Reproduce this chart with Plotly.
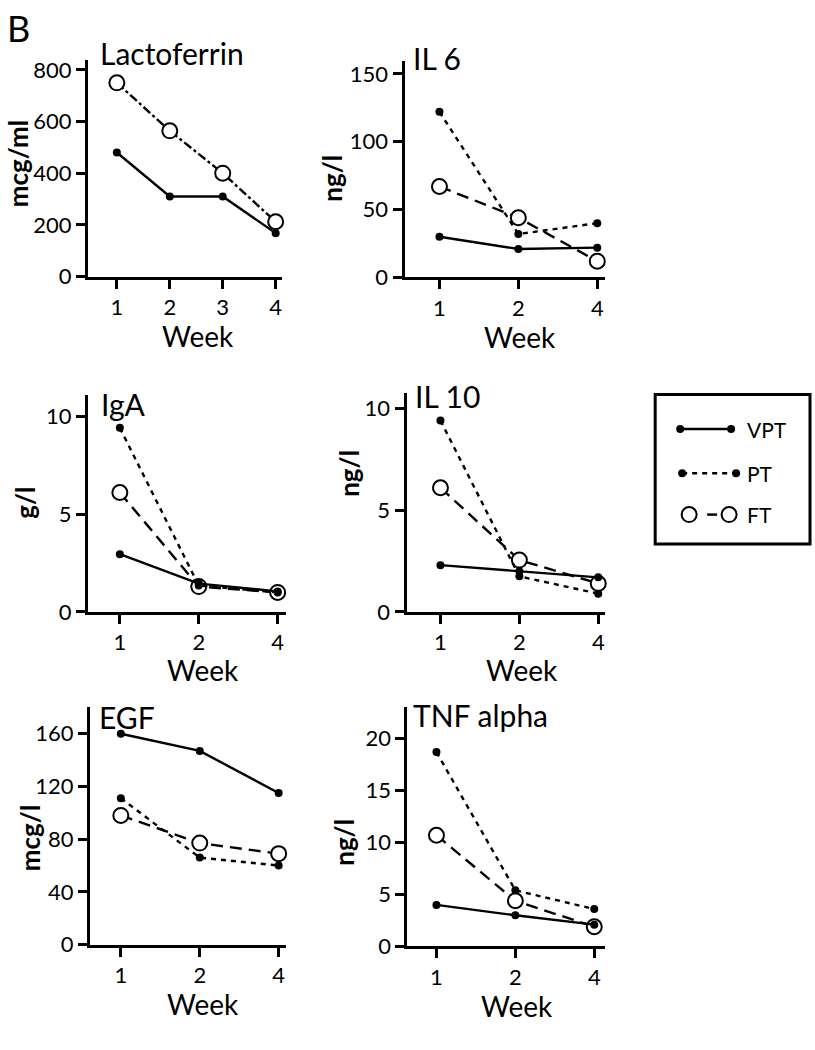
import plotly.graph_objects as go

W, H = 815, 1050
FONT = "Lato"

# ---------------- data ----------------
weeks_lf = ["1", "2", "3", "4"]
weeks = ["1", "2", "4"]

lactoferrin_vpt = [480, 310, 310, 168]
lactoferrin_ft = [750, 564, 400, 212]

il6_vpt = [30, 21, 22]
il6_pt = [122, 32, 40]
il6_ft = [67, 44, 12]

iga_vpt = [2.95, 1.45, 1.05]
iga_pt = [9.4, 1.35, 1.0]
iga_ft = [6.1, 1.3, 1.0]

il10_vpt = [2.3, 2.0, 1.7]
il10_pt = [9.4, 1.75, 0.9]
il10_ft = [6.1, 2.55, 1.4]

egf_vpt = [160, 147, 115]
egf_pt = [111, 66, 60]
egf_ft = [98, 77, 69]

tnf_vpt = [4.0, 3.0, 2.1]
tnf_pt = [18.7, 5.4, 3.6]
tnf_ft = [10.7, 4.4, 1.9]

panel_titles = ["Lactoferrin", "IL 6", "IgA", "IL 10", "EGF", "TNF alpha"]
unit_labels = ["mcg/ml", "ng/l", "g/l", "ng/l", "mcg/l", "ng/l"]
ytick_vals = [[0, 200, 400, 600, 800], [0, 50, 100, 150], [0, 5, 10],
              [0, 5, 10], [0, 40, 80, 120, 160], [0, 5, 10, 15, 20]]
legend_names = ["VPT", "PT", "FT"]

# ---------------- layout geometry (page pixels) ----------------
# (x_left, x_right, y_top, y_bottom, idx0_px, spacing_px, ymax)
geo = [
    (88, 282, 57, 277, 117, 53, 838),
    (405, 606, 58, 278, 440, 79, 159.4),
    (88, 286, 397, 618, 120, 79, 11.1),
    (407, 606, 395, 618, 441, 79, 10.77),
    (90, 286, 715, 956, 121, 79, 180),
    (408, 606, 715, 958, 437, 79, 23.0),
]
title_pos = [(98, 50), (412, 55), (99, 407), (414, 398), (97, 725), (412, 723)]
unit_pos = [(18, 162), (333, 177), (25, 507), (350, 477), (30, 847), (345, 852)]
week_pos = [(198, 337), (521, 338), (203, 677), (523, 677), (203, 1016), (518, 1018)]


def fx(px):
    return px / W


def fy(py):
    return 1 - py / H


panels = [
    (weeks_lf, lactoferrin_vpt, None, lactoferrin_ft),
    (weeks, il6_vpt, il6_pt, il6_ft),
    (weeks, iga_vpt, iga_pt, iga_ft),
    (weeks, il10_vpt, il10_pt, il10_ft),
    (weeks, egf_vpt, egf_pt, egf_ft),
    (weeks, tnf_vpt, tnf_pt, tnf_ft),
]

fig = go.Figure()
LW = 2.4
PT_DASH = "5px,5px"
FT_DASH = "12px,7px"
TICKFONT = dict(family=FONT, size=22, color="black")

layout_axes = {}
annotations = []
for i, ((wk, vpt, pt, ft), g) in enumerate(zip(panels, geo)):
    n = i + 1
    xa = "x" if n == 1 else f"x{n}"
    ya = "y" if n == 1 else f"y{n}"
    xl, xr, yt, yb, i0, sp, ymax = g
    idx = list(range(len(wk)))
    ft_dash = "dashdot" if pt is None else FT_DASH
    fig.add_trace(go.Scatter(x=idx, y=ft, xaxis=xa, yaxis=ya, mode="lines+markers",
                             line=dict(color="black", width=LW, dash=ft_dash),
                             marker=dict(symbol="circle", size=15, color="white",
                                         line=dict(color="black", width=2)),
                             showlegend=False, cliponaxis=False))
    if pt is not None:
        fig.add_trace(go.Scatter(x=idx, y=pt, xaxis=xa, yaxis=ya, mode="lines+markers",
                                 line=dict(color="black", width=LW, dash=PT_DASH),
                                 marker=dict(symbol="circle", size=8, color="black"),
                                 showlegend=False, cliponaxis=False))
    fig.add_trace(go.Scatter(x=idx, y=vpt, xaxis=xa, yaxis=ya, mode="lines+markers",
                             line=dict(color="black", width=LW),
                             marker=dict(symbol="circle", size=8, color="black"),
                             showlegend=False, cliponaxis=False))

    xkey = "xaxis" if n == 1 else f"xaxis{n}"
    ykey = "yaxis" if n == 1 else f"yaxis{n}"
    layout_axes[xkey] = dict(
        domain=[fx(xl), fx(xr)], anchor=ya,
        range=[(xl - i0) / sp, (xr - i0) / sp],
        tickvals=idx, ticktext=wk, showline=True, linecolor="black", linewidth=3,
        ticks="outside", ticklen=9, tickwidth=3, tickcolor="black",
        showgrid=False, zeroline=False, tickfont=TICKFONT,
    )
    layout_axes[ykey] = dict(
        domain=[fy(yb), fy(yt)], anchor=xa,
        range=[0, ymax], tickvals=ytick_vals[i],
        showline=True, linecolor="black", linewidth=3,
        ticks="outside", ticklen=9, tickwidth=3, tickcolor="black",
        showgrid=False, zeroline=False, tickfont=TICKFONT,
    )
    tx, ty = title_pos[i]
    annotations.append(dict(text=panel_titles[i], xref="paper", yref="paper",
                            x=fx(tx), y=fy(ty), xanchor="left", yanchor="middle",
                            showarrow=False, font=dict(family=FONT, size=30, color="black")))
    wx, wy = week_pos[i]
    annotations.append(dict(text="Week", xref="paper", yref="paper",
                            x=fx(wx), y=fy(wy), xanchor="center", yanchor="middle",
                            showarrow=False, font=dict(family=FONT, size=28, color="black")))
    ux, uy = unit_pos[i]
    annotations.append(dict(text="<b>" + unit_labels[i] + "</b>", xref="paper", yref="paper",
                            x=fx(ux), y=fy(uy), xanchor="center", yanchor="middle",
                            textangle=-90, showarrow=False,
                            font=dict(family=FONT, size=26, color="black")))

annotations.append(dict(text="B", xref="paper", yref="paper", x=fx(5), y=1,
                        xanchor="left", yanchor="top", showarrow=False,
                        font=dict(family=FONT, size=36, color="black")))

# ---------------- legend (drawn manually) ----------------
shapes = [dict(type="rect", xref="paper", yref="paper", x0=fx(656), x1=fx(811),
               y0=fy(549), y1=fy(397), line=dict(color="black", width=3))]
leg_y = [432, 477, 519]


def dot(px, py, d, fill, lw=0):
    return dict(type="circle", xref="paper", yref="paper", xsizemode="pixel",
                ysizemode="pixel", xanchor=fx(px), yanchor=fy(py),
                x0=-d / 2, x1=d / 2, y0=-d / 2, y1=d / 2, fillcolor=fill,
                line=dict(color="black", width=lw))


def seg(xa_, xb_, py, dash):
    return dict(type="line", xref="paper", yref="paper", x0=fx(xa_), x1=fx(xb_),
                y0=fy(py), y1=fy(py), line=dict(color="black", width=LW, dash=dash))


shapes += [seg(681, 732, leg_y[0], "solid"), dot(681, leg_y[0], 8, "black"),
           dot(732, leg_y[0], 8, "black")]
shapes += [seg(683, 737, leg_y[1], PT_DASH), dot(683, leg_y[1], 8, "black"),
           dot(737, leg_y[1], 8, "black")]
shapes += [seg(708, 718, leg_y[2], "solid"), dot(690, leg_y[2], 15, "white", 2),
           dot(730, leg_y[2], 15, "white", 2)]
for name, py in zip(legend_names, leg_y):
    annotations.append(dict(text=name, xref="paper", yref="paper", x=fx(746), y=fy(py),
                            xanchor="left", yanchor="middle", showarrow=False,
                            font=dict(family=FONT, size=21, color="black")))

fig.update_layout(width=W, height=H, margin=dict(l=0, r=0, t=0, b=0),
                  paper_bgcolor="white", plot_bgcolor="white",
                  annotations=annotations, shapes=shapes, showlegend=False,
                  **layout_axes)

# remove the browser's default 8px body margin so the figure fills the page exactly
fig.write_html("out.html",
               config={"displayModeBar": False},
               post_script="document.body.style.margin='0';document.body.style.overflow='hidden';")
